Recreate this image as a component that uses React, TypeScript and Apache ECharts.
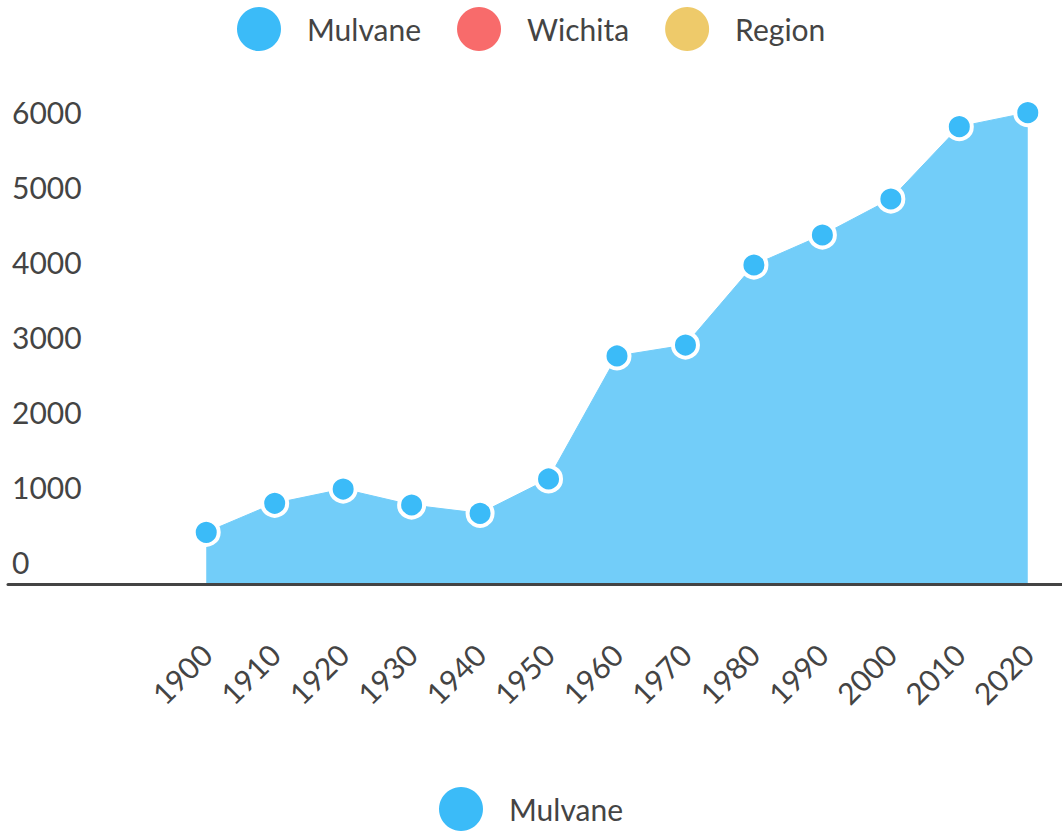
import React, { useEffect, useRef } from "react";
import * as echarts from "echarts";

const years = ["1900", "1910", "1920", "1930", "1940", "1950", "1960", "1970", "1980", "1990", "2000", "2010", "2020"];
const mulvane = [396, 783, 973, 760, 649, 1107, 2747, 2893, 3960, 4360, 4840, 5804, 5991];
const wichita: number[] = [];
const region: number[] = [];
const legendTop = ["Mulvane", "Wichita", "Region"];
const legendBottom = ["Mulvane"];

const FONT = "Lato";
const TEXT = "#444444";

export default function App() {
  const ref = useRef<HTMLDivElement>(null);
  useEffect(() => {
    if (!ref.current) return;
    const chart = echarts.init(ref.current, undefined, { renderer: "svg" });
    chart.setOption({
      animation: false,
      textStyle: { fontFamily: FONT },
      legend: [
        {
          data: legendTop,
          left: 232,
          top: 2,
          icon: "circle",
          itemWidth: 86,
          itemHeight: 44,
          itemGap: 36,
          itemStyle: { borderWidth: 0 },
          textStyle: { fontSize: 30, color: TEXT, fontFamily: FONT, padding: [0, 0, 4, 0] },
          selectedMode: false,
        },
        {
          data: legendBottom,
          left: 434,
          top: 782,
          icon: "circle",
          itemWidth: 86,
          itemHeight: 44,
          itemStyle: { borderWidth: 0 },
          textStyle: { fontSize: 30, color: TEXT, fontFamily: FONT, padding: [0, 0, 18, 0] },
          selectedMode: false,
        },
      ],
      grid: [
        { left: 8, right: 0, top: 112, height: 450 },
        { left: 172, width: 891, top: 112, height: 471 },
      ],
      xAxis: [
        {
          gridIndex: 0,
          type: "value",
          min: 0,
          max: 1,
          offset: 22,
          axisLine: { show: true, onZero: false, lineStyle: { color: "#444444", width: 3 } },
          axisTick: { show: false },
          axisLabel: { show: false },
          splitLine: { show: false },
        },
        {
          gridIndex: 1,
          type: "category",
          data: years,
          boundaryGap: true,
          axisLine: { show: false, onZero: false },
          axisTick: { show: false },
          axisLabel: {
            rotate: 45,
            margin: 66,
            fontSize: 30,
            color: TEXT,
            fontFamily: FONT,
            interval: 0,
          },
          splitLine: { show: false },
        },
      ],
      yAxis: [
        {
          gridIndex: 0,
          type: "value",
          min: 0,
          max: 6000,
          interval: 1000,
          axisLine: { show: false },
          axisTick: { show: false },
          splitLine: { show: false },
          axisLabel: {
            inside: true,
            margin: 4,
            fontSize: 30,
            color: TEXT,
            fontFamily: FONT,
            formatter: (v: number) => String(v),
          },
        },
        {
          gridIndex: 1,
          type: "value",
          min: -280,
          max: 6000,
          show: false,
          splitLine: { show: false },
        },
      ],
      series: [
        {
          name: "Mulvane",
          type: "line",
          xAxisIndex: 1,
          yAxisIndex: 1,
          data: mulvane,
          symbol: "circle",
          symbolSize: 25,
          itemStyle: { color: "#3BBBF8", borderColor: "#ffffff", borderWidth: 4 },
          lineStyle: { color: "#72CDF9", width: 1 },
          areaStyle: { color: "#72CDF9", opacity: 1, origin: "start" },
          z: 3,
        },
        {
          name: "Wichita",
          type: "line",
          xAxisIndex: 1,
          yAxisIndex: 1,
          data: wichita,
          itemStyle: { color: "#F86B6B" },
        },
        {
          name: "Region",
          type: "line",
          xAxisIndex: 1,
          yAxisIndex: 1,
          data: region,
          itemStyle: { color: "#EECA6A" },
        },
      ],
    });
    return () => chart.dispose();
  }, []);
  return (
    <div
      ref={ref}
      style={{ position: "absolute", left: 0, top: 0, width: 1062, height: 831 }}
    />
  );
}
